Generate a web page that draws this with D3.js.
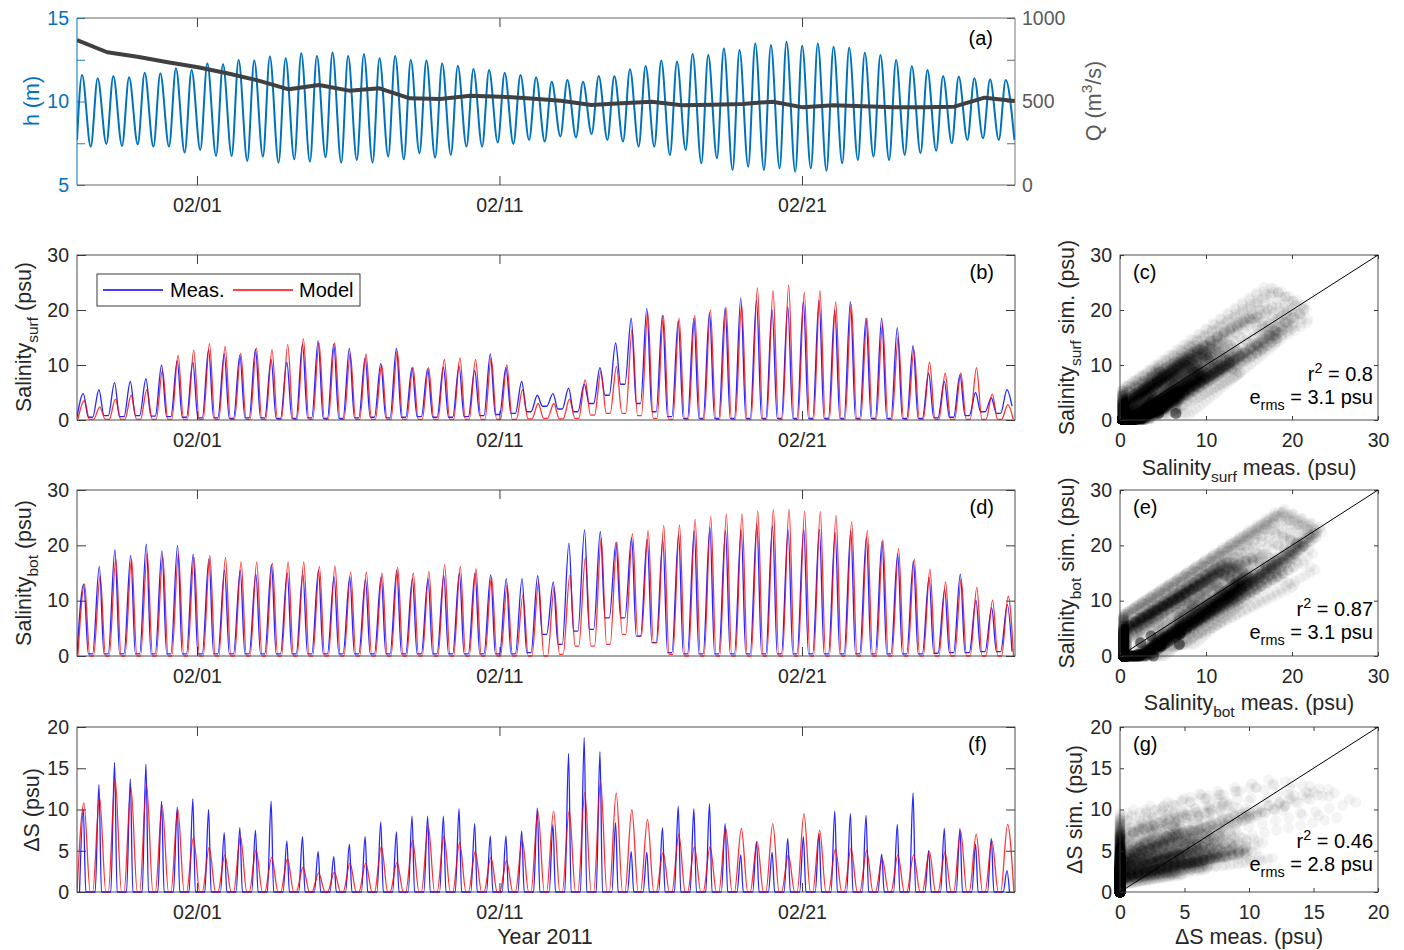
<!DOCTYPE html>
<html>
<head>
<meta charset="utf-8">
<script src="https://cdn.jsdelivr.net/npm/d3@7/dist/d3.min.js"></script>
<style>
html,body{margin:0;padding:0;background:#fff;}
svg{display:block;}
</style>
</head>
<body>
<svg id="fig" width="1404" height="950"></svg>
<script>
// ======================= DATA =======================
const timeStart = "2011-01-28T00:50:00Z";
const timeEnd   = "2011-02-28T01:00:00Z";
const dateTickLabels = ["2011-02-01", "2011-02-11", "2011-02-21"];

// hours after timeStart of each high water (semi-diurnal tide)
const highWaterHours = [4.0, 16.4, 28.8, 41.3, 53.7, 66.1, 78.5, 90.9, 103.4, 115.8,
  128.2, 140.6, 153.0, 165.5, 177.9, 190.3, 202.7, 215.1, 227.6, 240.0,
  252.4, 264.8, 277.2, 289.7, 302.1, 314.5, 326.9, 339.3, 351.8, 364.2,
  376.6, 389.0, 401.4, 413.9, 426.3, 438.7, 451.1, 463.5, 476.0, 488.4,
  500.8, 513.2, 525.6, 538.1, 550.5, 562.9, 575.3, 587.7, 600.2, 612.6,
  625.0, 637.4, 649.8, 662.3, 674.7, 687.1, 699.5, 711.9, 724.4, 736.8];

// (a) water level h (m): level at start, then high water and following low water of each tide
const levelAtStart = 7.7;
const highWaterLevel = [11.59, 11.39, 11.53, 11.45, 11.72, 11.69, 11.99, 11.89, 12.29, 12.25,
  12.49, 12.45, 12.69, 12.59, 12.89, 12.72, 12.93, 12.72, 12.83, 12.59,
  12.72, 12.49, 12.45, 12.29, 12.14, 11.95, 11.89, 11.72, 11.59, 11.45,
  11.19, 11.29, 11.19, 11.53, 11.53, 11.93, 12.13, 12.45, 12.39, 12.84,
  12.78, 13.18, 13.08, 13.48, 13.38, 13.58, 13.34, 13.48, 13.28, 13.22,
  12.92, 12.78, 12.49, 12.13, 11.89, 11.53, 11.49, 11.39, 11.33, 11.29];
const lowWaterLevel = [7.30, 7.46, 7.34, 7.44, 7.30, 7.30, 6.94, 7.10, 6.74, 6.74,
  6.44, 6.70, 6.34, 6.54, 6.40, 6.66, 6.34, 6.50, 6.34, 6.70,
  6.54, 6.90, 6.64, 6.80, 7.30, 7.30, 7.54, 7.46, 7.69, 7.60,
  7.90, 7.85, 8.05, 7.70, 7.60, 7.30, 7.30, 6.80, 7.10, 6.30,
  6.60, 5.90, 6.10, 5.90, 6.00, 5.80, 6.00, 5.85, 6.30, 6.50,
  6.70, 6.50, 6.80, 6.90, 7.05, 7.50, 7.70, 7.80, 7.70, 7.70];

// (a) river discharge Q (m^3/s), daily values (days after timeStart)
const dischargeDay = [0, 1, 2, 3, 4, 5, 6, 7, 8, 9, 10, 11, 12, 13, 14, 15,
  16, 17, 18, 19, 20, 21, 22, 23, 24, 25, 26, 27, 28, 29, 30, 31];
const discharge = [868, 795, 768, 735, 705, 668, 625, 573, 599, 565, 579, 519, 515, 535, 529, 518,
  505, 479, 490, 499, 478, 480, 485, 499, 465, 477, 472, 466, 466, 469, 523, 503];

// (b) surface salinity (psu): tidal maxima and following minima
const surfMeasPeak = [4.8, 5.5, 6.8, 7.0, 7.5, 10.0, 10.8, 10.5, 12.8, 12.0,
  11.8, 12.9, 11.0, 10.5, 13.8, 14.4, 13.8, 13.0, 11.3, 10.3,
  13.0, 9.5, 9.3, 9.6, 9.8, 9.0, 12.0, 9.5, 7.0, 4.5,
  4.8, 5.8, 6.5, 9.5, 14.0, 18.5, 20.3, 19.0, 18.0, 18.5,
  19.5, 20.3, 22.2, 21.8, 20.0, 20.6, 21.5, 21.8, 20.0, 21.5,
  18.5, 18.5, 16.8, 13.5, 8.5, 7.0, 8.2, 5.0, 4.0, 5.5];
const surfMeasLow = [0.5, 0.8, 0.6, 0.8, 0.7, 0.6, 0.5, 0.4, 0.4, 0.3,
  0.4, 0.4, 0.3, 0.3, 0.4, 0.3, 0.3, 0.4, 0.5, 0.4,
  0.5, 0.6, 0.5, 0.5, 0.6, 0.8, 1.0, 1.2, 1.5, 2.5,
  2.0, 1.5, 3.0, 4.5, 6.5, 3.0, 1.5, 0.6, 0.3, 0.3,
  0.3, 0.3, 0.3, 0.3, 0.3, 0.3, 0.3, 0.3, 0.3, 0.3,
  0.3, 0.3, 0.3, 0.3, 0.4, 0.5, 0.8, 1.5, 1.2, 2.5];
const surfModelPeak = [3.5, 2.4, 3.8, 4.5, 5.5, 9.0, 11.8, 12.7, 13.9, 13.4,
  12.1, 13.1, 12.8, 13.7, 14.8, 14.0, 14.0, 12.0, 12.0, 10.0,
  12.5, 9.6, 9.5, 11.0, 11.3, 11.0, 11.2, 10.0, 5.5, 3.0,
  3.0, 3.8, 7.3, 8.8, 9.7, 16.5, 19.6, 19.0, 18.5, 19.0,
  20.0, 20.5, 21.0, 24.0, 23.5, 24.5, 23.2, 23.5, 21.5, 21.0,
  18.5, 17.5, 15.0, 12.8, 10.5, 8.5, 8.5, 9.5, 4.7, 2.8];
const surfModelLow = [0.1, 0.1, 0.1, 0.1, 0.1, 0.1, 0.1, 0.1, 0.1, 0.1,
  0.1, 0.1, 0.1, 0.1, 0.1, 0.1, 0.1, 0.1, 0.1, 0.1,
  0.1, 0.1, 0.1, 0.1, 0.1, 0.1, 0.1, 0.1, 0.2, 0.3,
  0.2, 0.3, 0.9, 1.2, 1.2, 0.8, 0.3, 0.1, 0.1, 0.1,
  0.1, 0.1, 0.1, 0.1, 0.1, 0.1, 0.1, 0.1, 0.1, 0.1,
  0.1, 0.1, 0.1, 0.1, 0.1, 0.1, 0.1, 0.1, 0.1, 0.1];

// (d) bottom salinity (psu)
const botMeasPeak = [13.0, 16.2, 19.2, 18.2, 20.2, 19.0, 20.0, 18.4, 17.6, 15.5,
  15.5, 14.8, 16.5, 15.0, 14.8, 15.5, 14.3, 14.3, 13.8, 14.3,
  15.5, 14.0, 14.0, 14.5, 15.0, 15.0, 14.7, 14.0, 14.0, 14.5,
  13.4, 20.4, 22.8, 22.5, 20.5, 21.4, 21.1, 20.9, 21.9, 22.6,
  23.2, 22.7, 22.8, 23.8, 23.5, 22.8, 22.9, 22.9, 22.3, 22.6,
  21.5, 20.8, 18.5, 17.2, 14.2, 12.0, 14.8, 10.1, 8.7, 9.3];
const botMeasLow = [0.4, 0.4, 0.4, 0.4, 0.4, 0.4, 0.4, 0.4, 0.4, 0.4,
  0.4, 0.4, 0.4, 0.4, 0.4, 0.4, 0.4, 0.4, 0.4, 0.4,
  0.4, 0.4, 0.4, 0.4, 0.4, 0.4, 0.4, 0.4, 0.6, 3.9,
  2.1, 4.5, 4.8, 6.9, 6.9, 3.6, 2.4, 0.6, 0.4, 0.4,
  0.4, 0.4, 0.4, 0.4, 0.4, 0.4, 0.4, 0.4, 0.4, 0.4,
  0.4, 0.4, 0.4, 0.4, 0.5, 0.6, 0.6, 0.8, 0.8, 0.8];
const botModelPeak = [13.0, 14.5, 17.5, 17.5, 18.5, 18.0, 18.5, 17.8, 18.2, 17.8,
  17.0, 17.0, 16.8, 17.0, 17.0, 16.2, 16.3, 15.2, 15.2, 15.0,
  16.0, 15.0, 15.3, 16.5, 16.2, 15.8, 14.3, 12.8, 11.0, 13.4,
  12.4, 14.6, 17.8, 21.2, 20.6, 22.1, 22.7, 23.6, 23.7, 24.7,
  25.2, 25.6, 25.7, 26.2, 26.5, 26.5, 26.2, 26.1, 25.4, 24.3,
  22.7, 21.0, 19.4, 17.5, 15.7, 13.4, 13.9, 12.4, 10.1, 10.8];
const botModelLow = [0, 0, 0, 0, 0, 0, 0, 0, 0, 0,
  0, 0, 0, 0, 0, 0, 0, 0, 0, 0,
  0, 0, 0, 0, 0, 0, 0, 0, 0, 0,
  0.3, 1.8, 1.8, 2.1, 3.9, 3.6, 2.4, 0.3, 0, 0,
  0, 0, 0, 0, 0, 0, 0, 0, 0, 0,
  0, 0, 0, 0, 0, 0, 0, 0, 0, 0];

// (f) stratification dS = S_bot - S_surf (psu): tidal maxima (minima are ~0)
const dsMeasPeak = [10.0, 13.0, 15.7, 13.7, 15.5, 11.0, 10.3, 11.3, 10.0, 7.2,
  7.8, 7.5, 11.0, 6.2, 6.7, 4.9, 4.3, 5.8, 6.7, 8.5,
  7.3, 9.2, 9.2, 9.2, 10.1, 8.3, 6.8, 6.8, 7.4, 10.2,
  8.2, 16.8, 18.7, 17.0, 8.4, 4.9, 4.8, 7.8, 10.4, 10.1,
  10.7, 8.3, 4.5, 6.1, 4.8, 6.5, 6.7, 7.1, 9.8, 9.5,
  9.3, 4.6, 8.2, 12.0, 5.0, 7.7, 7.7, 5.8, 6.5, 2.6];
const dsModelPeak = [10.8, 11.5, 13.7, 12.7, 13.0, 10.5, 10.0, 6.6, 5.4, 4.5,
  6.7, 5.1, 4.2, 4.0, 3.0, 2.3, 2.4, 3.5, 3.5, 5.5,
  3.6, 6.3, 8.0, 6.8, 6.0, 4.9, 4.2, 3.8, 6.3, 9.8,
  9.8, 9.9, 12.1, 13.4, 12.0, 10.0, 8.8, 4.8, 7.0, 5.5,
  5.5, 7.7, 7.7, 6.1, 8.3, 4.5, 9.5, 7.5, 5.2, 5.3,
  5.0, 4.0, 4.5, 4.5, 4.9, 4.8, 7.4, 7.0, 6.2, 8.2];
const dsLow = 0;

// statistics printed on the scatter panels
const statsSurf = { r2: "0.8",  erms: "3.1" };
const statsBot  = { r2: "0.87", erms: "3.1" };
const statsDS   = { r2: "0.46", erms: "2.8" };

// ======================= RENDERING =======================
const FONT = '"Liberation Sans", Arial, Helvetica, sans-serif';
const TXT = "#262626";
const BLUE_H = "#0072BD";
const svg = d3.select("#fig").attr("font-family", FONT);

const t0 = new Date(timeStart), t1 = new Date(timeEnd);
const toDate = h => new Date(t0.getTime() + h * 3600000);
const x = d3.scaleUtc().domain([t0, t1]).range([77, 1015]);
const dateTicks = dateTickLabels.map(s => new Date(s + "T00:00:00Z"));
const fmtDate = d3.utcFormat("%m/%d");

const TICKF = 19.5, LABF = 21.5, LETF = 20;

// rich text (sub/superscripts)
function rich(sel, parts, size) {
  let shift = 0;
  parts.forEach(p => {
    const target = p.sub ? size * 0.32 : (p.sup ? -size * 0.42 : 0);
    sel.append("tspan").attr("dy", target - shift)
      .attr("font-size", (p.sub || p.sup) ? size * 0.72 : size).text(p.t);
    shift = target;
  });
  return sel;
}
function label(xp, yp, parts, opts = {}) {
  const t = svg.append("text")
    .attr("text-anchor", opts.anchor || "middle")
    .attr("fill", opts.color || TXT)
    .attr("font-size", opts.size || LABF);
  if (opts.rotate) t.attr("transform", `translate(${xp},${yp}) rotate(-90)`);
  else t.attr("x", xp).attr("y", yp);
  return rich(t, parts, opts.size || LABF);
}

// boxed axes with inward ticks
function frame(xs, ys, o) {
  const g = svg.append("g");
  const [xa, xb] = xs.range();
  const [yb, ya] = ys.range();
  const tl = o.tickLen;
  const col = o.tickColor || TXT;
  const parts = [];
  parts.push(g.append("g").attr("transform", `translate(0,${yb})`)
    .call(d3.axisBottom(xs).tickValues(o.xTicks).tickFormat(o.xFmt)
      .tickSizeInner(-tl).tickSizeOuter(0).tickPadding(o.xPad)));
  parts.push(g.append("g").attr("transform", `translate(0,${ya})`)
    .call(d3.axisTop(xs).tickValues(o.xTicks).tickFormat("")
      .tickSizeInner(-tl).tickSizeOuter(0)));
  parts.push(g.append("g").attr("transform", `translate(${xa},0)`)
    .call(d3.axisLeft(ys).tickValues(o.yTicks).tickFormat(o.yFmt)
      .tickSizeInner(-tl).tickSizeOuter(0).tickPadding(o.yPad)));
  parts.push(g.append("g").attr("transform", `translate(${xb},0)`)
    .call(d3.axisRight(ys).tickValues(o.yTicks).tickFormat("")
      .tickSizeInner(-tl).tickSizeOuter(0)));
  parts.forEach(p => p.attr("font-family", FONT).attr("font-size", TICKF));
  g.selectAll(".domain").remove();
  g.selectAll(".tick line").attr("stroke", col).attr("stroke-width", 0.9);
  g.selectAll(".tick text").attr("fill", TXT);
  g.append("rect").attr("x", xa).attr("y", ya).attr("width", xb - xa).attr("height", yb - ya)
    .attr("fill", "none").attr("stroke", o.boxColor || "#3a3a3a").attr("stroke-width", 0.9);
  return g;
}

let clipId = 0;
function clip(xs, ys) {
  const id = "clip" + (clipId++);
  const [xa, xb] = xs.range(), [yb, ya] = ys.range();
  svg.append("clipPath").attr("id", id).append("rect")
    .attr("x", xa).attr("y", ya - 2).attr("width", xb - xa).attr("height", yb - ya + 3);
  return `url(#${id})`;
}

// tidal control points: [hours, value]; times are relative to each high water
function tidalSeries(peaks, lows, firstLow, riseH, peakH, fallH) {
  const pts = [];
  highWaterHours.forEach((hw, i) => {
    const before = i === 0 ? firstLow : (Array.isArray(lows) ? lows[i - 1] : lows);
    const after = Array.isArray(lows) ? lows[i] : lows;
    pts.push([hw - riseH, before], [hw + peakH, peaks[i]], [hw + fallH, after]);
  });
  return pts;
}

// ---------- panel (a) ----------
const yH = d3.scaleLinear().domain([5, 15]).range([185, 18]);
const yQ = d3.scaleLinear().domain([0, 1000]).range([185, 18]);
{
  const g = svg.append("g");
  const b = g.append("g").attr("transform", "translate(0,185)")
    .call(d3.axisBottom(x).tickValues(dateTicks).tickFormat(fmtDate).tickSizeInner(-9).tickSizeOuter(0).tickPadding(13));
  const tp = g.append("g").attr("transform", "translate(0,18)")
    .call(d3.axisTop(x).tickValues(dateTicks).tickFormat("").tickSizeInner(-9).tickSizeOuter(0));
  const l = g.append("g").attr("transform", "translate(77,0)")
    .call(d3.axisLeft(yH).tickValues([5, 7.5, 10, 12.5, 15]).tickFormat(d => d % 5 === 0 ? d : "")
      .tickSizeInner(-8).tickSizeOuter(0).tickPadding(8));
  const r = g.append("g").attr("transform", "translate(1015,0)")
    .call(d3.axisRight(yQ).tickValues([0, 250, 500, 750, 1000]).tickFormat(d => d % 500 === 0 ? d : "")
      .tickSizeInner(-8).tickSizeOuter(0).tickPadding(7));
  [b, tp, l, r].forEach(p => p.attr("font-family", FONT).attr("font-size", TICKF));
  g.selectAll(".domain").remove();
  b.selectAll(".tick line").attr("stroke", TXT); tp.selectAll(".tick line").attr("stroke", TXT);
  b.selectAll(".tick text").attr("fill", TXT);
  l.selectAll(".tick line").attr("stroke", BLUE_H); l.selectAll(".tick text").attr("fill", BLUE_H);
  r.selectAll(".tick line").attr("stroke", "#555"); r.selectAll(".tick text").attr("fill", "#5a5a5a");
  g.selectAll(".tick line").attr("stroke-width", 0.9);
  g.append("line").attr("x1", 77).attr("x2", 1015).attr("y1", 18).attr("y2", 18).attr("stroke", "#555").attr("stroke-width", 0.9);
  g.append("line").attr("x1", 77).attr("x2", 1015).attr("y1", 185).attr("y2", 185).attr("stroke", "#555").attr("stroke-width", 0.9);
  g.append("line").attr("x1", 1015).attr("x2", 1015).attr("y1", 18).attr("y2", 185).attr("stroke", "#666").attr("stroke-width", 0.9);
  g.append("line").attr("x1", 77).attr("x2", 77).attr("y1", 18).attr("y2", 185).attr("stroke", BLUE_H).attr("stroke-width", 1);

  const cp = clip(x, yH);
  const tide = [[0, levelAtStart]];
  highWaterHours.forEach((hw, i) => { tide.push([hw, highWaterLevel[i]], [hw + 6.9, lowWaterLevel[i]]); });
  svg.append("path").datum(tide).attr("clip-path", cp)
    .attr("fill", "none").attr("stroke", BLUE_H).attr("stroke-width", 2)
    .attr("d", d3.line().x(d => x(toDate(d[0]))).y(d => yH(d[1])).curve(d3.curveMonotoneX));
  svg.append("path").datum(dischargeDay.map((d, i) => [d * 24, discharge[i]])).attr("clip-path", cp)
    .attr("fill", "none").attr("stroke", "#404040").attr("stroke-width", 4).attr("stroke-linejoin", "round")
    .attr("d", d3.line().x(d => x(toDate(d[0]))).y(d => yQ(d[1])));

  label(39, 101, [{ t: "h (m)" }], { rotate: true, color: BLUE_H });
  label(1101, 101, [{ t: "Q (m" }, { t: "3", sup: true }, { t: "/s)" }], { rotate: true, color: "#5a5a5a" });
  label(993, 45, [{ t: "(a)" }], { anchor: "end", color: "#000", size: LETF });
}

// ---------- time-series panels ----------
function timePanel(top, bottom, yMax, yTicks, meas, model, letter, letterX) {
  const ys = d3.scaleLinear().domain([0, yMax]).range([bottom, top]);
  frame(x, ys, { xTicks: dateTicks, xFmt: fmtDate, yTicks, yFmt: d3.format("d"), tickLen: 9, xPad: 13, yPad: 8 });
  const cp = clip(x, ys);
  const line = d3.line().x(d => x(toDate(d[0]))).y(d => ys(d[1])).curve(d3.curveMonotoneX);
  svg.append("path").datum(meas).attr("clip-path", cp).attr("fill", "none")
    .attr("stroke", "#0000ff").attr("stroke-opacity", 0.85).attr("stroke-width", 1.3).attr("d", line);
  svg.append("path").datum(model).attr("clip-path", cp).attr("fill", "none")
    .attr("stroke", "#ff0000").attr("stroke-opacity", 0.8).attr("stroke-width", 1.3).attr("d", line);
  label(letterX, top + 24, [{ t: "(" + letter + ")" }], { anchor: "end", color: "#000", size: LETF });
  return ys;
}

const surfMeas = tidalSeries(surfMeasPeak, surfMeasLow, 0.5, 4.0, 1.0, 5.0);
const surfModel = tidalSeries(surfModelPeak, surfModelLow, 0.1, 3.3, 1.7, 6.0);
const botMeas = tidalSeries(botMeasPeak, botMeasLow, 0.4, 4.0, 1.3, 5.0);
const botModel = tidalSeries(botModelPeak, botModelLow, 0, 3.3, 2.0, 6.2);
const dsMeas = tidalSeries(dsMeasPeak, dsLow, 0, 2.0, 1.0, 3.0);
const dsModel = tidalSeries(dsModelPeak, dsLow, 0, 4.0, 1.5, 6.5);

timePanel(255, 420, 30, [0, 10, 20, 30], surfMeas, surfModel, "b", 994);
timePanel(490, 656, 30, [0, 10, 20, 30], botMeas, botModel, "d", 994);
timePanel(727, 892, 20, [0, 5, 10, 15, 20], dsMeas, dsModel, "f", 987);

// y labels of time panels
label(31, 337, [{ t: "Salinity" }, { t: "surf", sub: true }, { t: " (psu)" }], { rotate: true });
label(31, 573, [{ t: "Salinity" }, { t: "bot", sub: true }, { t: " (psu)" }], { rotate: true });
label(39, 810, [{ t: "\u0394S (psu)" }], { rotate: true });
label(545, 944, [{ t: "Year 2011" }]);

// legend in (b)
{
  const g = svg.append("g");
  g.append("rect").attr("x", 97).attr("y", 274).attr("width", 263).attr("height", 32)
    .attr("fill", "#fff").attr("stroke", "#262626").attr("stroke-width", 0.9);
  g.append("line").attr("x1", 103).attr("x2", 163).attr("y1", 290).attr("y2", 290).attr("stroke", "#0000ff").attr("stroke-width", 1.3);
  g.append("text").attr("x", 170).attr("y", 297).attr("font-size", 20).attr("fill", "#000").text("Meas.");
  g.append("line").attr("x1", 233).attr("x2", 293).attr("y1", 290).attr("y2", 290).attr("stroke", "#ff0000").attr("stroke-width", 1.3);
  g.append("text").attr("x", 299).attr("y", 297).attr("font-size", 20).attr("fill", "#000").text("Model");
}

// ---------- scatter panels: measured vs simulated at common times ----------
const sampleHours = d3.range(0, 744, 1 / 6); // every 10 minutes
function scatterPanel(top, bottom, maxV, ticks, meas, model, letter, stats, xParts, xLabY, yParts, yLabX) {
  const xs = d3.scaleLinear().domain([0, maxV]).range([1120, 1378]);
  const ys = d3.scaleLinear().domain([0, maxV]).range([bottom, top]);
  const fm = d3.scaleLinear().domain(meas.map(d => d[0])).range(meas.map(d => d[1])).clamp(true);
  const fs = d3.scaleLinear().domain(model.map(d => d[0])).range(model.map(d => d[1])).clamp(true);
  const pairs = sampleHours.map(h => [fm(h), fs(h)]);
  svg.append("g").selectAll("circle").data(pairs).join("circle")
    .attr("cx", d => xs(d[0])).attr("cy", d => ys(d[1])).attr("r", 5.5)
    .attr("fill", "#000").attr("fill-opacity", 0.045);
  frame(xs, ys, { xTicks: ticks, xFmt: d3.format("d"), yTicks: ticks, yFmt: d3.format("d"), tickLen: 4, xPad: 13, yPad: 8 });
  svg.append("line").attr("x1", xs(0)).attr("y1", ys(0)).attr("x2", xs(maxV)).attr("y2", ys(maxV))
    .attr("stroke", "#000").attr("stroke-width", 1);
  label(1133, top + 24, [{ t: "(" + letter + ")" }], { anchor: "start", color: "#000", size: LETF });
  label(1373, stats.y1, [{ t: "r" }, { t: "2", sup: true }, { t: " = " + stats.r2 }], { anchor: "end", color: "#000", size: 20 });
  label(1373, stats.y2, [{ t: "e" }, { t: "rms", sub: true }, { t: " = " + stats.erms + " psu" }], { anchor: "end", color: "#000", size: 20 });
  label(1249, xLabY, xParts);
  label(yLabX, (top + bottom) / 2, yParts, { rotate: true });
}

scatterPanel(255, 420, 30, [0, 10, 20, 30], surfMeas, surfModel, "c",
  Object.assign({ y1: 381, y2: 404 }, statsSurf),
  [{ t: "Salinity" }, { t: "surf", sub: true }, { t: " meas. (psu)" }], 475,
  [{ t: "Salinity" }, { t: "surf", sub: true }, { t: " sim. (psu)" }], 1074);
scatterPanel(490, 656, 30, [0, 10, 20, 30], botMeas, botModel, "e",
  Object.assign({ y1: 616, y2: 639 }, statsBot),
  [{ t: "Salinity" }, { t: "bot", sub: true }, { t: " meas. (psu)" }], 710,
  [{ t: "Salinity" }, { t: "bot", sub: true }, { t: " sim. (psu)" }], 1074);
scatterPanel(727, 892, 20, [0, 5, 10, 15, 20], dsMeas, dsModel, "g",
  Object.assign({ y1: 848, y2: 871 }, statsDS),
  [{ t: "\u0394S meas. (psu)" }], 944,
  [{ t: "\u0394S sim. (psu)" }], 1082);
</script>
</body>
</html>
